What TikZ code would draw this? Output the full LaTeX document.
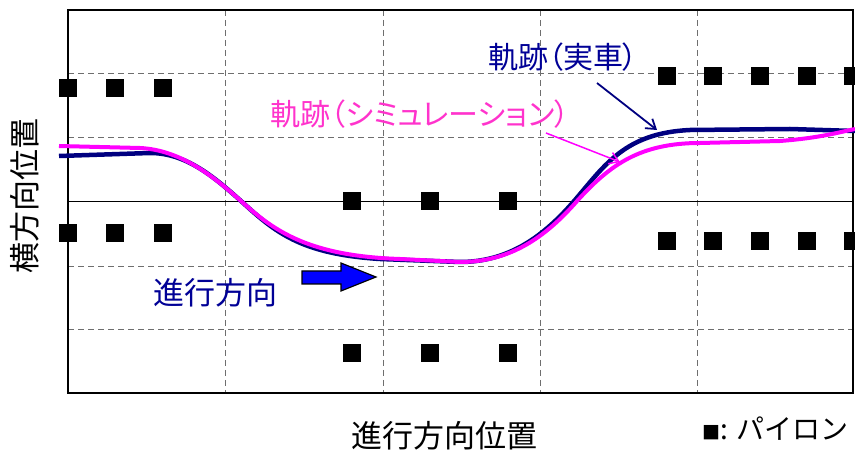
\documentclass[tikz,border=0pt]{standalone}
\usepackage{fontspec}
\setmainfont{Noto Sans CJK JP}
\newfontfamily\jpprop[RawFeature=+palt]{Noto Sans CJK JP}
\usetikzlibrary{arrows.meta}
\definecolor{navyline}{RGB}{0,0,128}
\definecolor{navytext}{RGB}{0,0,150}
\definecolor{magline}{RGB}{255,0,255}
\definecolor{pinktext}{RGB}{255,51,204}
\definecolor{gridgray}{RGB}{110,110,110}
\definecolor{arrowblue}{RGB}{0,0,255}
\begin{document}
\begin{tikzpicture}[x=1pt,y=-1pt,
  gridline/.style={draw=gridgray, line width=0.9pt, dash pattern=on 6pt off 4pt},
  pylon/.style={fill=black, draw=none, minimum size=18pt, inner sep=0pt, outer sep=0pt},
  realcurve/.style={draw=navyline, line width=4.5pt, line join=round},
  simcurve/.style={draw=magline, line width=4pt, line join=round},
  lbl/.style={inner sep=0pt, anchor=center},
  labelarrow/.style={-{Straight Barb[length=9pt,width=12pt]}}
]
\useasboundingbox (0,0) rectangle (855,454);

% grid
\foreach \gx in {225,383,540,697} \draw[gridline] (\gx,10) -- (\gx,393);
\foreach \gy in {73,137,266,329} \draw[gridline] (68,\gy) -- (853,\gy);
\draw[black, line width=0.9pt] (68,201) -- (853,201);
\draw[black, line width=1.5pt] (68,10) rectangle (853,393);

% pylons
\foreach \px/\nm in {68/a,115/b,163/c} {
  \node[pylon] (ptop\nm) at (\px,88) {};
  \node[pylon] (pbot\nm) at (\px,233) {};
}
\foreach \px/\nm in {352/a,430/b,508/c} {
  \node[pylon] (pmid\nm) at (\px,201) {};
  \node[pylon] (plow\nm) at (\px,353) {};
}
\foreach \px/\nm in {667/a,713/b,760/c,807/d,853/e} {
  \node[pylon] (rtop\nm) at (\px,76) {};
  \node[pylon] (rbot\nm) at (\px,241) {};
}

% trajectories
\draw[realcurve] (59,156) -- (150,153)
  .. controls (185,153) and (212,175) .. (241,201)
  .. controls (275,232) and (300,254) .. (380,259)
  -- (460,262)
  .. controls (510,262) and (545,235) .. (575,200)
  .. controls (605,165) and (625,133) .. (690,130)
  -- (790,129) -- (855,131);
\draw[simcurve] (59,146) -- (140,148)
  .. controls (180,150) and (212,175) .. (241,201)
  .. controls (275,232) and (310,256) .. (400,259)
  -- (460,262)
  .. controls (515,262) and (550,232) .. (578,200)
  .. controls (610,165) and (640,143) .. (700,143)
  -- (780,141) .. controls (820,138) and (840,132) .. (855,129);

% labels
\node[lbl, text=navytext, font=\jpprop\fontsize{30}{30}\selectfont] (lreal) at (563,57) {軌跡（実車）};
\coordinate (realfrom) at (597,83);
\coordinate (realto) at (657,130);
\draw[navyline, line width=1.8pt, labelarrow] (realfrom) -- (realto);

\node[lbl, text=pinktext, font=\jpprop\fontsize{30}{30}\selectfont] (lsim) at (420,114) {軌跡（シミュレーション）};
\coordinate (simfrom) at (546,133);
\coordinate (simto) at (620,162);
\draw[magline, line width=1.5pt, labelarrow] (simfrom) -- (simto);

% direction arrow
\draw[fill=arrowblue, draw=black, line width=1.2pt, line join=miter]
  (302,271) -- (341,271) -- (341,263) -- (376,277) -- (341,291) -- (341,284) -- (302,284) -- cycle;
\node[lbl, text=navytext, font=\fontsize{31}{31}\selectfont] (dir) at (215,293) {進行方向};

% axis labels
\node[lbl, font=\fontsize{31}{31}\selectfont, rotate=90] (ylab) at (25,196) {横方向位置};
\node[lbl, font=\fontsize{31}{31}\selectfont] (xlab) at (444,436) {進行方向位置};
\node[lbl, anchor=west, font=\fontsize{28}{28}\selectfont] (legend) at (702,429) {{\fontsize{18}{18}\selectfont ■}: パイロン};
\end{tikzpicture}
\end{document}
